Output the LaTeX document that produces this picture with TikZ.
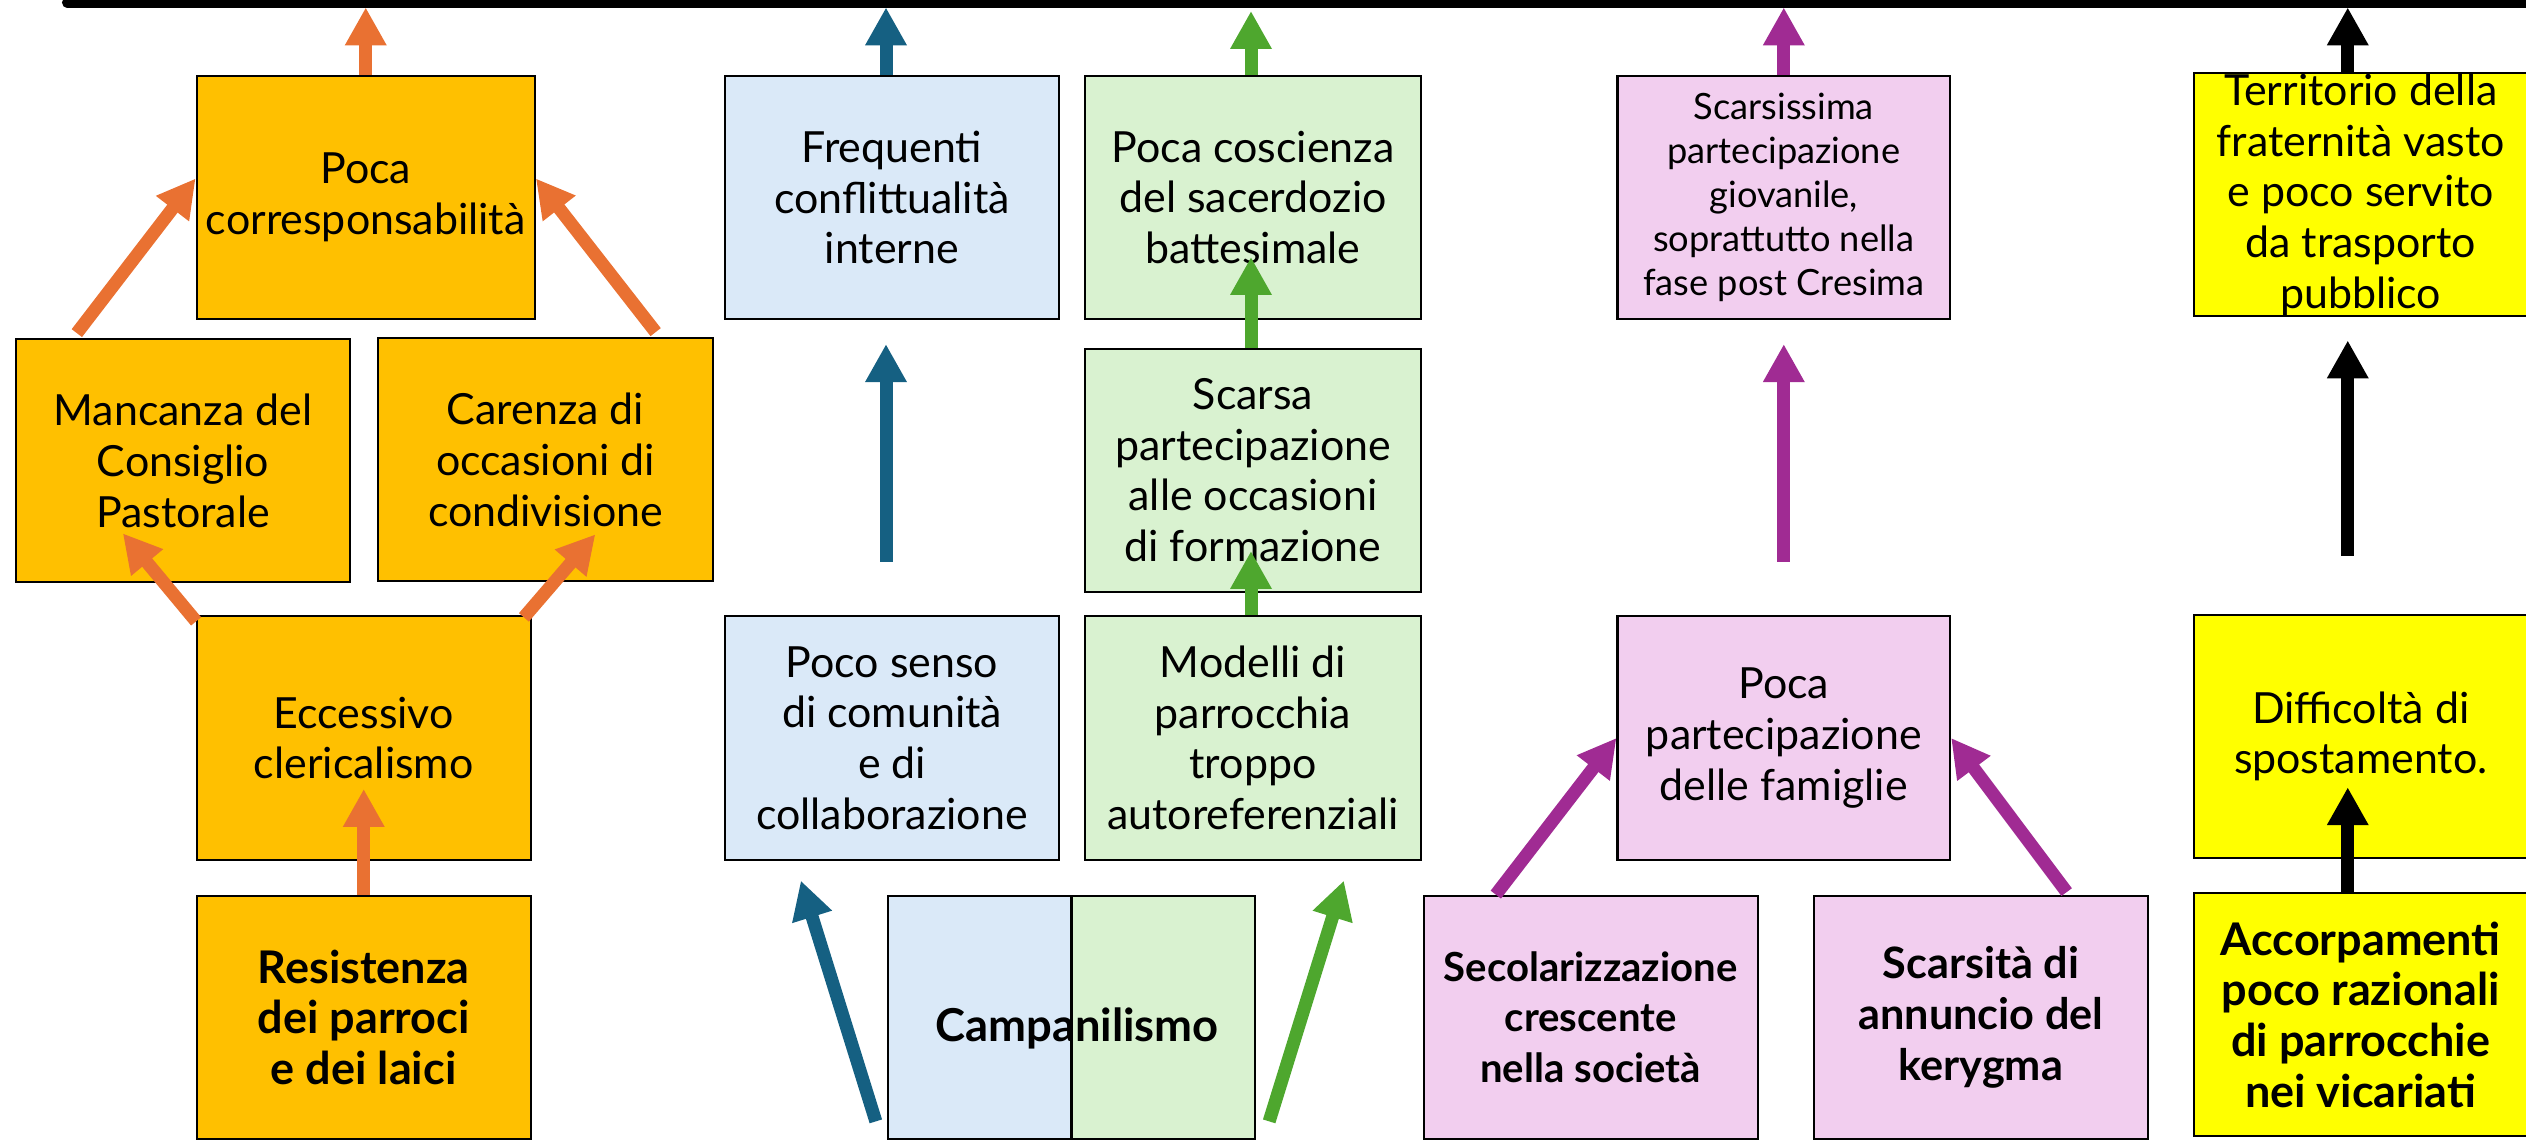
\documentclass[tikz,border=0pt]{standalone}
\usepackage{fontspec}
\setmainfont{Lato}
\usetikzlibrary{arrows.meta,calc}
\definecolor{orfill}{HTML}{FFC000}
\definecolor{orarr}{HTML}{E97132}
\definecolor{blarr}{HTML}{156082}
\definecolor{blfill}{HTML}{DAE9F8}
\definecolor{grarr}{HTML}{4EA72E}
\definecolor{grfill}{HTML}{D9F2D0}
\definecolor{puarr}{HTML}{A02B93}
\definecolor{pufill}{HTML}{F2CEEF}
\definecolor{yefill}{HTML}{FFFF00}
\begin{document}
\begin{tikzpicture}[x=0.01cm,y=-0.01cm,
  box/.style={draw=black,line width=0.6pt,minimum width=3.34cm,minimum height=2.43cm,inner sep=0pt,anchor=center},
  lbl/.style={align=center,inner sep=0pt,font=\fontsize{12.2}{14.4}\selectfont},
  blbl/.style={align=center,inner sep=0pt,font=\fontsize{#1}{14.4}\selectfont\bfseries},
  slbl/.style={align=center,inner sep=0pt,font=\fontsize{10.3}{12.5}\selectfont},
  arr/.style={line width=3.7pt,-{Triangle[length=10.8pt,width=11.1pt]}},
]
\useasboundingbox (0,0) rectangle (2526,1140);
% top line
\draw[line width=2.85pt,line cap=round] (67,2.5) -- (2540,2.5);
\coordinate (lineY) at (0,7.4);

% orange column
\node[box,fill=orfill,minimum width=3.38cm] (pc) at (365.75,197.5) {};
\node[lbl] at (pc) {Poca\\corresponsabilità};
\node[box,fill=orfill] (man) at (183,460.75) {};
\node[lbl] at (man) {Mancanza del\\Consiglio\\Pastorale};
\node[box,fill=orfill] (car) at (545.5,459.75) {};
\node[lbl] at (car) {Carenza di\\occasioni di\\condivisione};
\node[box,fill=orfill] (ecc) at (363.75,738) {};
\node[lbl] at (ecc) {Eccessivo\\clericalismo};
\node[box,fill=orfill] (res) at (363.75,1017.25) {};
\node[blbl=12.8] at (res) {Resistenza\\dei parroci\\e dei laici};

% blue / green column
\node[box,fill=blfill] (freq) at (892,197.5) {};
\node[lbl] at (freq) {Frequenti\\conflittualità\\interne};
\node[box,fill=grfill,minimum width=3.36cm] (cosc) at (1253,197.5) {};
\node[lbl] at (cosc) {Poca coscienza\\del sacerdozio\\battesimale};
\node[box,fill=grfill,minimum width=3.36cm] (scar) at (1253,470.3) {};
\node[lbl] at (scar) {Scarsa\\partecipazione\\alle occasioni\\di formazione};
\node[box,fill=blfill] (senso) at (892,738) {};
\node[lbl] at (senso) {Poco senso\\di comunità\\e di\\collaborazione};
\node[box,fill=grfill,minimum width=3.36cm] (mod) at (1253,738) {};
\node[lbl] at (mod) {Modelli di\\parrocchia\\troppo\\autoreferenziali};
\node[box,minimum width=3.67cm,path picture={
  \fill[blfill] (path picture bounding box.north west) rectangle (path picture bounding box.south);
  \fill[grfill] (path picture bounding box.north) rectangle (path picture bounding box.south east);
  \draw[line width=0.6pt] (path picture bounding box.north) -- (path picture bounding box.south);
}] (camp) at (1071.5,1017.25) {};
\node[blbl=12.9] at (1077,1028) {Campanilismo};

% purple column
\node[box,fill=pufill,minimum width=3.324cm] (giov) at (1783.8,197.5) {};
\node[slbl] at (giov) {Scarsissima\\partecipazione\\giovanile,\\soprattutto nella\\fase post Cresima};
\node[box,fill=pufill,minimum width=3.324cm] (fam) at (1783.8,738) {};
\node[lbl] at (fam) {Poca\\partecipazione\\delle famiglie};
\node[box,fill=pufill] (sec) at (1590.65,1017.25) {};
\node[blbl=11.4] at (sec) {Secolarizzazione\\crescente\\nella società};
\node[box,fill=pufill] (ker) at (1980.8,1017.25) {};
\node[blbl=12.3] at (ker) {Scarsità di\\annuncio del\\kerygma};

% yellow column
\node[box,fill=yefill] (terr) at (2360.75,194.8) {};
\node[lbl] at (terr) {Territorio della\\fraternità vasto\\e poco servito\\da trasporto\\pubblico};
\node[box,fill=yefill] (diff) at (2360.75,736.25) {};
\node[lbl] at (diff) {Difficoltà di\\spostamento.};
\node[box,fill=yefill] (acc) at (2360.75,1014.5) {};
\node[blbl=12.8] at (acc) {Accorpamenti\\poco razionali\\di parrocchie\\nei vicariati};

% free arrow ends
\coordinate (fblue) at ($(freq.south)+(-6,241.5)$);
\coordinate (fpurple) at ($(giov.south)+(0,241.5)$);
\coordinate (fblack) at ($(terr.south)+(-13,238.4)$);

% orange arrows
\draw[arr,orarr] (pc.north) -- (pc.north |- lineY);
\draw[arr,orarr] ($(man.north west)+(62,-5)$) -- ($(pc.west)+(0,-19)$);
\draw[arr,orarr] ($(car.north east)+(-58,-5)$) -- ($(pc.east)+(0,-19)$);
\draw[arr,orarr] ($(ecc.north west)+(0.5,6)$) -- ($(man.south west)+(108,-50)$);
\draw[arr,orarr] ($(ecc.north east)+(-8,2)$) -- ($(car.south west)+(218,-48)$);
\draw[arr,orarr] (res.north) -- ($(ecc.center)+(0,51)$);

% blue arrows
\draw[arr,blarr] ($(freq.north)+(-6,0)$) -- ($(freq.north |- lineY)+(-6,0)$);
\draw[arr,blarr] (fblue) -- ($(freq.south)+(-6,24)$);
\draw[arr,blarr] ($(camp.south west)+(-11,-18.5)$) -- ($(senso.south west)+(77,20)$);

% green arrows
\draw[arr,grarr] ($(cosc.north)+(-2,0)$) -- ($(cosc.north |- lineY)+(-2,3.6)$);
\draw[arr,grarr] ($(scar.north)+(-2,0)$) -- ($(cosc.center)+(-2,59.5)$);
\draw[arr,grarr] ($(mod.north)+(-2,0)$) -- ($(scar.center)+(-2,80.7)$);
\draw[arr,grarr] ($(camp.south east)+(13,-18.5)$) -- ($(mod.south west)+(260,20)$);

% purple arrows
\draw[arr,puarr] (giov.north) -- (giov.north |- lineY);
\draw[arr,puarr] (fpurple) -- ($(giov.south)+(0,24)$);
\draw[arr,puarr] ($(sec.north west)+(73.3,0)$) -- (fam.west);
\draw[arr,puarr] ($(ker.north west)+(254,-2.5)$) -- (fam.east);

% black arrows
\draw[arr,black] ($(terr.north)+(-13,0)$) -- ($(terr.north |- lineY)+(-13,0)$);
\draw[arr,black] (fblack) -- ($(terr.south)+(-13,23)$);
\draw[arr,black] ($(acc.north)+(-13,0)$) -- ($(diff.center)+(-13,51)$);
\end{tikzpicture}
\end{document}
